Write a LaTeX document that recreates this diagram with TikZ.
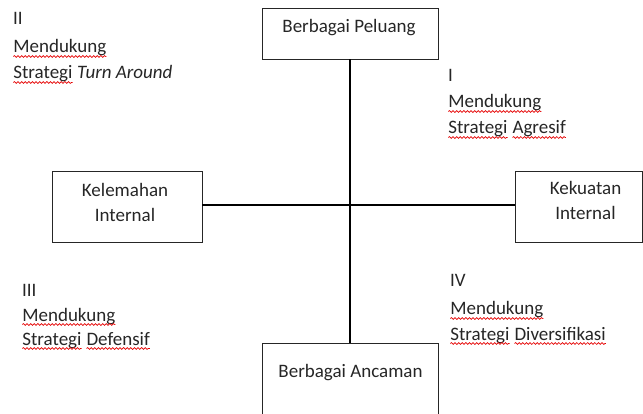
\documentclass[tikz,border=0pt]{standalone}
\usepackage{fontspec}
\setmainfont{Carlito}
\usetikzlibrary{decorations.pathmorphing}
\newcommand{\wavy}[1]{\tikz[baseline=(wv.base)]{\node[inner sep=0pt,outer sep=0pt,anchor=center,draw=none] (wv) {#1};\draw[red!90!black,line width=0.7pt,decorate,decoration={snake,amplitude=0.9pt,segment length=3.6pt}] ([yshift=-3.5pt]wv.base west) -- ([yshift=-3.5pt]wv.base east);}}
\begin{document}
\begin{tikzpicture}[x=1pt,y=-1pt,
  box/.style={draw=black!85,line width=0.9pt,rectangle,inner sep=0pt},
  lbl/.style={inner sep=0pt,outer sep=0pt,text=black!85,font=\fontsize{19}{23}\selectfont},
  axis/.style={draw=black,line width=2pt}]
\useasboundingbox (0,0) rectangle (643,414);
% boxes
\node[box,minimum width=176pt,minimum height=51pt] (top) at (350,33.5) {};
\node[box,minimum width=176pt,minimum height=87pt] (bot) at (350,386.5) {};
\node[box,minimum width=150pt,minimum height=71pt] (lft) at (127,206.5) {};
\node[box,minimum width=127pt,minimum height=71pt] (rgt) at (578.5,206.5) {};
% axes
\draw[axis] (top.south) -- (bot.north);
\draw[axis] ([yshift=1pt]lft.east) -- ([yshift=1pt]rgt.west);
% box labels
\node[lbl,anchor=base] (topt) at (349,33) {Berbagai Peluang};
\node[lbl,anchor=base] (bott) at (350.5,377) {Berbagai Ancaman};
\node[lbl,anchor=base] (lft1) at (125,197) {Kelemahan};
\node[lbl,anchor=base] (lft2) at (125,222) {Internal};
\node[lbl,anchor=base] (rgt1) at (585.5,195) {Kekuatan};
\node[lbl,anchor=base] (rgt2) at (585.5,220) {Internal};
% quadrant II
\node[lbl,anchor=base west] (q2a) at (13,25) {II};
\node[lbl,anchor=base west] (q2b) at (13,53) {\wavy{Mendukung}};
\node[lbl,anchor=base west] (q2c) at (13,79) {\wavy{Strategi} \textit{Turn Around}};
% quadrant I
\node[lbl,anchor=base west] (q1a) at (448,82) {I};
\node[lbl,anchor=base west] (q1b) at (448,108) {\wavy{Mendukung}};
\node[lbl,anchor=base west] (q1c) at (448,134) {\wavy{Strategi} \wavy{Agresif}};
% quadrant III
\node[lbl,anchor=base west] (q3a) at (22,297) {III};
\node[lbl,anchor=base west] (q3b) at (22,321) {\wavy{Mendukung}};
\node[lbl,anchor=base west] (q3c) at (22,345) {\wavy{Strategi} \wavy{Defensif}};
% quadrant IV
\node[lbl,anchor=base west] (q4a) at (450,287) {IV};
\node[lbl,anchor=base west] (q4b) at (450,315) {\wavy{Mendukung}};
\node[lbl,anchor=base west] (q4c) at (450,340) {\wavy{Strategi} \wavy{Diversifikasi}};
\end{tikzpicture}
\end{document}
